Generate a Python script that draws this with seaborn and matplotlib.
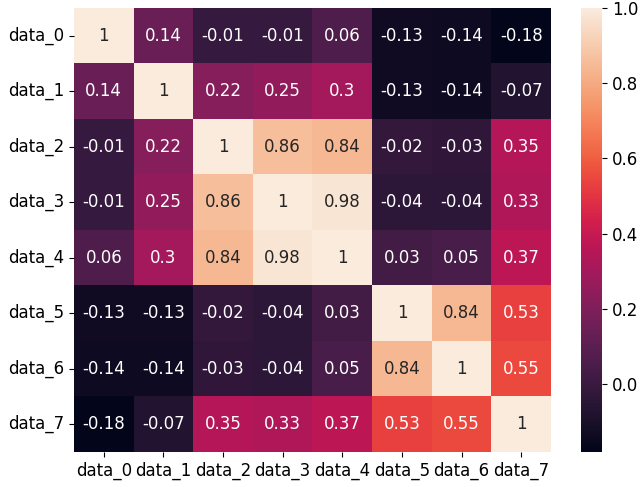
import numpy as np
import pandas as pd
import matplotlib
matplotlib.use("Agg")
import matplotlib.pyplot as plt
import seaborn as sns

labels = ["data_0", "data_1", "data_2", "data_3", "data_4", "data_5", "data_6", "data_7"]
row_0 = [1, 0.14, -0.01, -0.01, 0.06, -0.13, -0.14, -0.18]
row_1 = [0.14, 1, 0.22, 0.25, 0.3, -0.13, -0.14, -0.07]
row_2 = [-0.01, 0.22, 1, 0.86, 0.84, -0.02, -0.03, 0.35]
row_3 = [-0.01, 0.25, 0.86, 1, 0.98, -0.04, -0.04, 0.33]
row_4 = [0.06, 0.3, 0.84, 0.98, 1, 0.03, 0.05, 0.37]
row_5 = [-0.13, -0.13, -0.02, -0.04, 0.03, 1, 0.84, 0.53]
row_6 = [-0.14, -0.14, -0.03, -0.04, 0.05, 0.84, 1, 0.55]
row_7 = [-0.18, -0.07, 0.35, 0.33, 0.37, 0.53, 0.55, 1]

corr = pd.DataFrame([row_0, row_1, row_2, row_3, row_4, row_5, row_6, row_7],
                    index=labels, columns=labels)

fig = plt.figure(figsize=(6.43, 4.87), dpi=100)
ax = fig.add_axes([0.115, 0.072, 0.742, 0.912])
cax = fig.add_axes([0.904, 0.072, 0.033, 0.912])

sns.heatmap(corr, annot=True, ax=ax, cbar_ax=cax, annot_kws={"size": 12})
ax.tick_params(labelsize=12)
ax.set_yticklabels(labels, rotation=0)
cax.tick_params(labelsize=12)

fig.savefig("out.png", dpi=100)
